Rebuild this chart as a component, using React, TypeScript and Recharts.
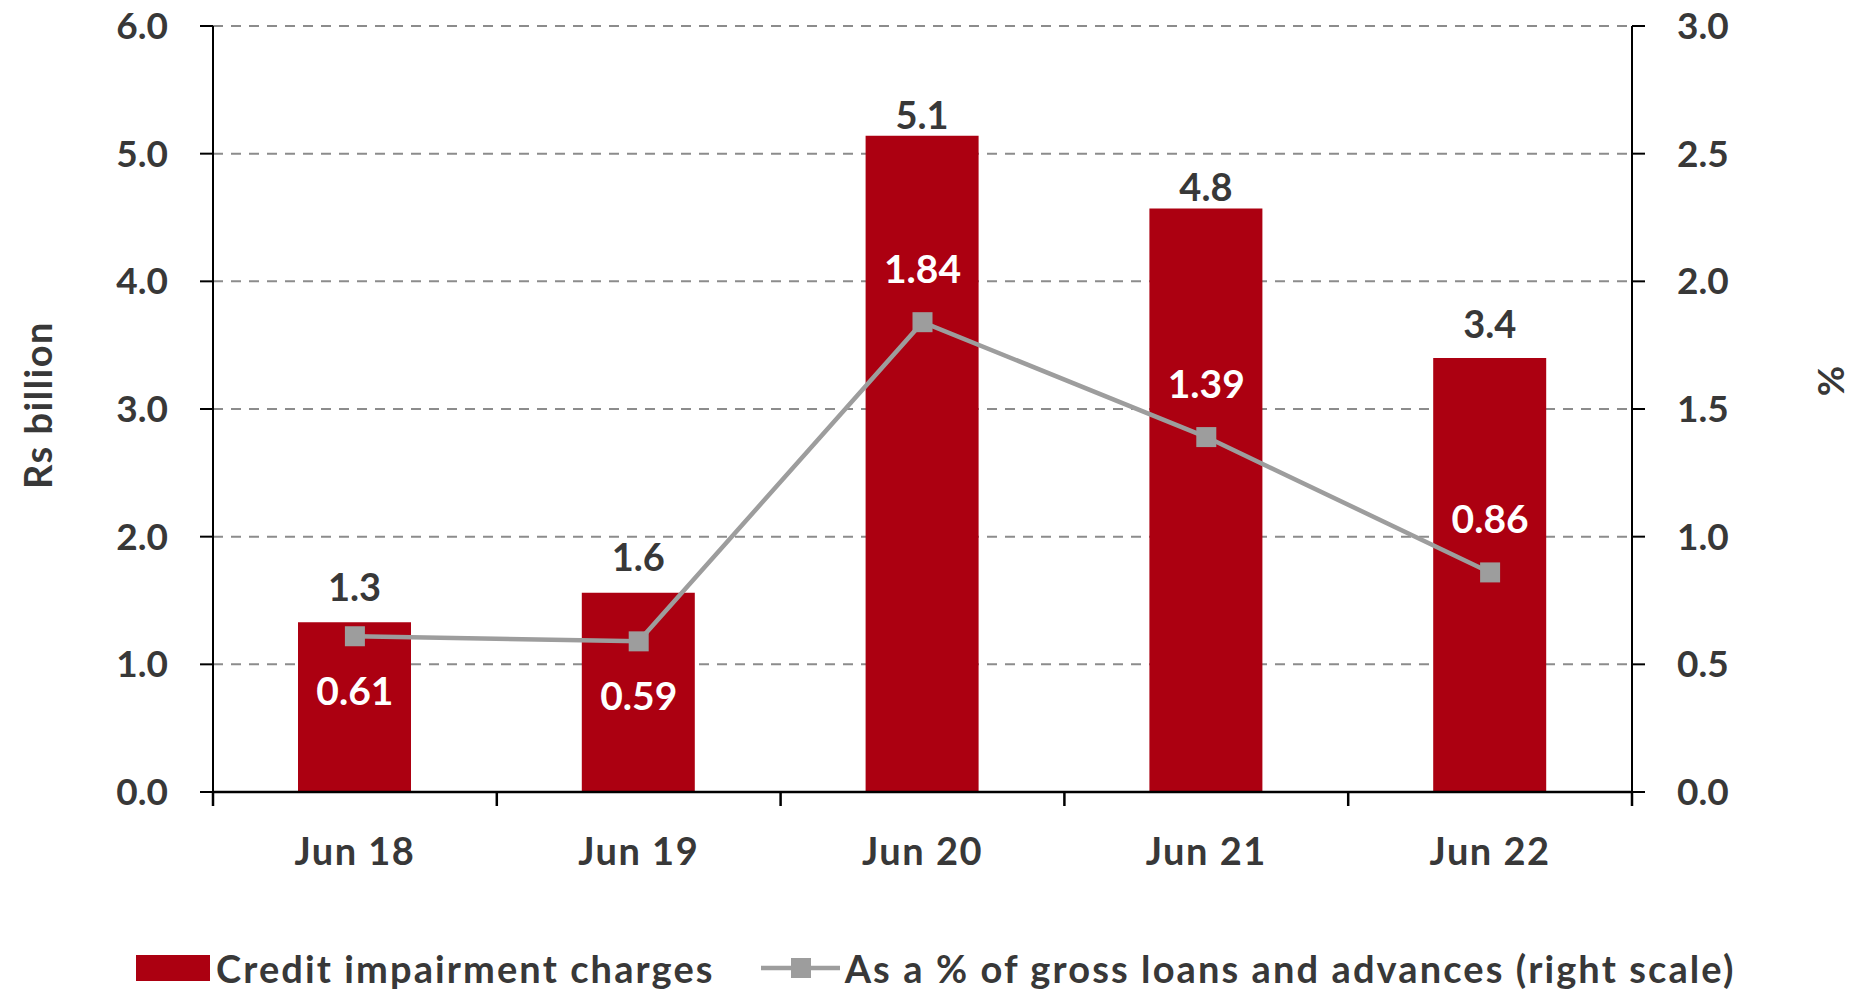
import React from 'react';
import { ComposedChart, Bar, Line, XAxis, YAxis, CartesianGrid, LabelList, Label } from 'recharts';

const categories = ['Jun 18', 'Jun 19', 'Jun 20', 'Jun 21', 'Jun 22'];
const impairmentCharges = [1.33, 1.56, 5.14, 4.57, 3.4];
const impairmentLabels = ['1.3', '1.6', '5.1', '4.8', '3.4'];
const pctOfLoans = [0.61, 0.59, 1.84, 1.39, 0.86];
const pctLabels = ['0.61', '0.59', '1.84', '1.39', '0.86'];
const leftTicks = [0, 1, 2, 3, 4, 5, 6];
const rightTicks = [0, 0.5, 1, 1.5, 2, 2.5, 3];

const data = categories.map((month, i) => ({
  month,
  charges: impairmentCharges[i],
  chargesLabel: impairmentLabels[i],
  pct: pctOfLoans[i],
  pctLabel: pctLabels[i],
}));

const FONT = 'Lato, "Open Sans", sans-serif';
const TEXT = '#383838';
const RED = '#AC0011';
const GREY = '#9d9d9d';

const W = 1854;
const H = 994;
const PLOT_LEFT = 213;
const PLOT_RIGHT = 1632;
const BAND = (PLOT_RIGHT - PLOT_LEFT) / categories.length;

const tickFont = { fill: TEXT, fontSize: 37, fontWeight: 700, fontFamily: FONT };
// words come out narrower than the numbers in Lato, so widen them a bit
const wordFont = { fill: TEXT, fontSize: 38, fontWeight: 700, fontFamily: FONT, letterSpacing: 1.5 };

// ticks sit on category boundaries, labels in the middle
const XTick = (props: any) => {
  const { x, y, payload, index } = props;
  const last = index === categories.length - 1;
  return (
    <g>
      <line x1={x - BAND / 2} y1={y} x2={x - BAND / 2} y2={y + 14} stroke="#000" strokeWidth={2.5} />
      {last && <line x1={x + BAND / 2} y1={y} x2={x + BAND / 2} y2={y + 14} stroke="#000" strokeWidth={2.5} />}
      <text x={x} y={y + 73} textAnchor="middle" {...wordFont}>
        {payload.value}
      </text>
    </g>
  );
};

// label lift above bar top (baseline), per bar
const barLift = [21, 22, 7, 8, 20];

const BarValue = (props: any) => {
  const { x, y, width, value, index } = props;
  return (
    <text x={x + width / 2} y={y - barLift[index]} textAnchor="middle" {...tickFont} fontSize={38}>
      {value}
    </text>
  );
};

const PctValue = (props: any) => {
  const { x, y, value, index } = props;
  const center = index < 2 ? y + 56 : y - 52;
  return (
    <text x={x} y={center + 13} textAnchor="middle" fill="#ffffff" fontSize={39} fontWeight={700} fontFamily={FONT}>
      {value}
    </text>
  );
};

const SquareDot = (props: any) => {
  const { cx, cy, index } = props;
  return <rect key={`dot-${index}`} x={cx - 10} y={cy - 10} width={20} height={20} fill={GREY} />;
};

export default function App() {
  return (
    <div style={{ position: 'absolute', left: 0, top: 0, width: W, height: H, background: '#fff', fontFamily: FONT }}>
      <ComposedChart width={W} height={H} data={data} margin={{ top: 26, right: 0, bottom: 0, left: 0 }}>
        <CartesianGrid yAxisId="left" vertical={false} stroke="#8c8c8c" strokeWidth={2} strokeDasharray="10 8" />
        <XAxis
          dataKey="month"
          axisLine={{ stroke: '#000', strokeWidth: 2.5 }}
          tickLine={false}
          tickSize={0}
          tickMargin={0}
          tick={<XTick />}
          height={202}
        />
        <YAxis
          yAxisId="left"
          domain={[0, 6]}
          ticks={leftTicks}
          tickFormatter={(v: number) => v.toFixed(1)}
          width={213}
          tickSize={13}
          tickMargin={32}
          axisLine={{ stroke: '#000', strokeWidth: 2 }}
          tickLine={{ stroke: '#000', strokeWidth: 2 }}
          tick={tickFont}
        >
          <Label
            content={() => (
              <text transform="translate(39, 405) rotate(-90)" textAnchor="middle" dy={13} {...wordFont}>
                Rs billion
              </text>
            )}
          />
        </YAxis>
        <YAxis
          yAxisId="right"
          orientation="right"
          domain={[0, 3]}
          ticks={rightTicks}
          tickFormatter={(v: number) => v.toFixed(1)}
          width={222}
          tickSize={13}
          tickMargin={32}
          axisLine={{ stroke: '#000', strokeWidth: 2 }}
          tickLine={{ stroke: '#000', strokeWidth: 2 }}
          tick={tickFont}
        >
          <Label
            content={() => (
              <text transform="translate(1831, 381) rotate(-90)" textAnchor="middle" dy={13} {...tickFont}>
                %
              </text>
            )}
          />
        </YAxis>
        <Bar yAxisId="left" dataKey="charges" fill={RED} barSize={113} isAnimationActive={false}>
          <LabelList dataKey="chargesLabel" content={<BarValue />} />
        </Bar>
        <Line
          yAxisId="right"
          dataKey="pct"
          stroke={GREY}
          strokeWidth={4.5}
          dot={<SquareDot />}
          activeDot={false}
          isAnimationActive={false}
        >
          <LabelList dataKey="pctLabel" content={<PctValue />} />
        </Line>
      </ComposedChart>

      <div
        style={{
          position: 'absolute',
          left: 136,
          top: 946,
          height: 44,
          display: 'flex',
          alignItems: 'center',
          fontSize: 38,
          letterSpacing: 2.1,
          fontWeight: 700,
          color: TEXT,
          whiteSpace: 'nowrap',
        }}
      >
        <span style={{ display: 'inline-block', width: 74, height: 26, background: RED }} />
        <span style={{ marginLeft: 6 }}>Credit impairment charges</span>
        <svg width={79} height={22} style={{ marginLeft: 46 }}>
          <line x1={0} y1={11} x2={79} y2={11} stroke={GREY} strokeWidth={4.5} />
          <rect x={30} y={1} width={20} height={20} fill={GREY} />
        </svg>
        <span style={{ marginLeft: 5 }}>As a % of gross loans and advances (right scale)</span>
      </div>
    </div>
  );
}
